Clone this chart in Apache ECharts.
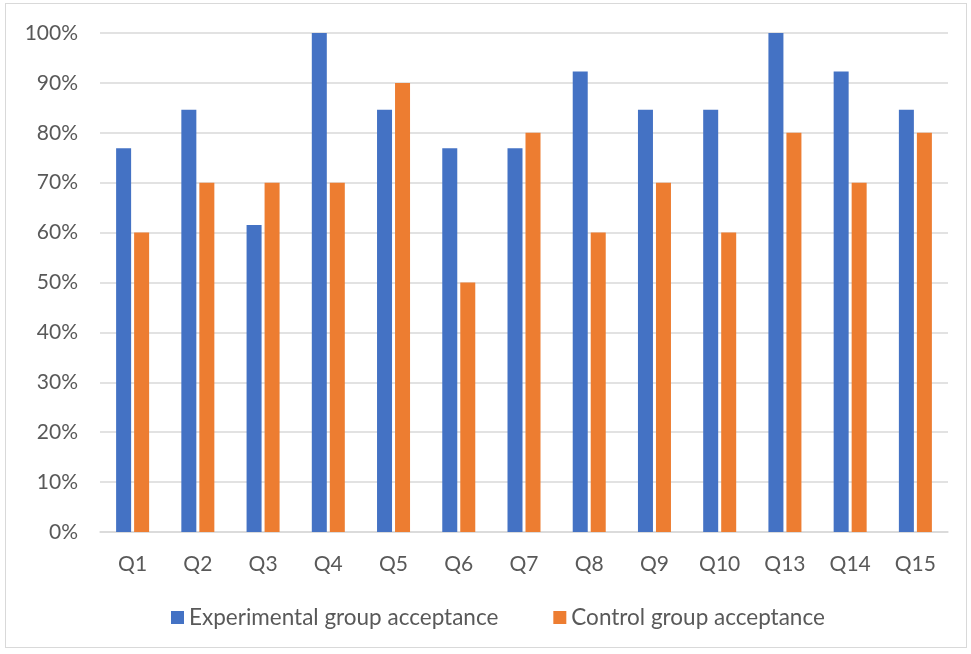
<!DOCTYPE html>
<html><head><meta charset="utf-8">
<script src="https://cdn.jsdelivr.net/npm/echarts@6/dist/echarts.min.js"></script>
<style>html,body{margin:0;padding:0;background:#fff}#frame{position:absolute;left:5px;top:3px;width:962px;height:645px;border:1.5px solid #d9d9d9;box-sizing:border-box}#c{position:absolute;left:0;top:0;width:971px;height:654px}</style>
</head><body><div id="frame"></div><div id="c"></div>
<script>
var categories = ['Q1','Q2','Q3','Q4','Q5','Q6','Q7','Q8','Q9','Q10','Q13','Q14','Q15'];
var experimental = [76.9,84.6,61.5,100,84.6,76.9,76.9,92.3,84.6,84.6,100,92.3,84.6];
var control = [60,70,70,70,90,50,80,60,70,60,80,70,80];
var seriesNames = ['Experimental group acceptance','Control group acceptance'];
var font = 'Lato, "Open Sans", sans-serif';
var chart = echarts.init(document.getElementById('c'));
chart.setOption({
  animation:false,
  grid:{left:100,right:23,top:33,bottom:122,containLabel:false},
  legend:{top:601,left:166,itemWidth:13,itemHeight:13,itemGap:55,icon:'rect',
    textStyle:{fontFamily:font,fontSize:22.5,color:'#595959'},data:seriesNames},
  xAxis:{type:'category',data:categories,
    axisLine:{lineStyle:{color:'#d9d9d9',width:1.5}},axisTick:{show:false},
    axisLabel:{fontFamily:font,fontSize:21,color:'#595959',margin:22}},
  yAxis:{type:'value',min:0,max:100,interval:10,
    axisLine:{show:false},axisTick:{show:false},
    splitLine:{lineStyle:{color:'#d9d9d9',width:1.5}},
    axisLabel:{fontFamily:font,fontSize:21,color:'#595959',margin:22,formatter:'{value}%'}},
  series:[
    {name:seriesNames[0],type:'bar',data:experimental,barWidth:'23%',barGap:'20%',itemStyle:{color:'#4472c4'}},
    {name:seriesNames[1],type:'bar',data:control,barWidth:'23%',barGap:'20%',itemStyle:{color:'#ed7d31'}}
  ]
});
</script></body></html>
